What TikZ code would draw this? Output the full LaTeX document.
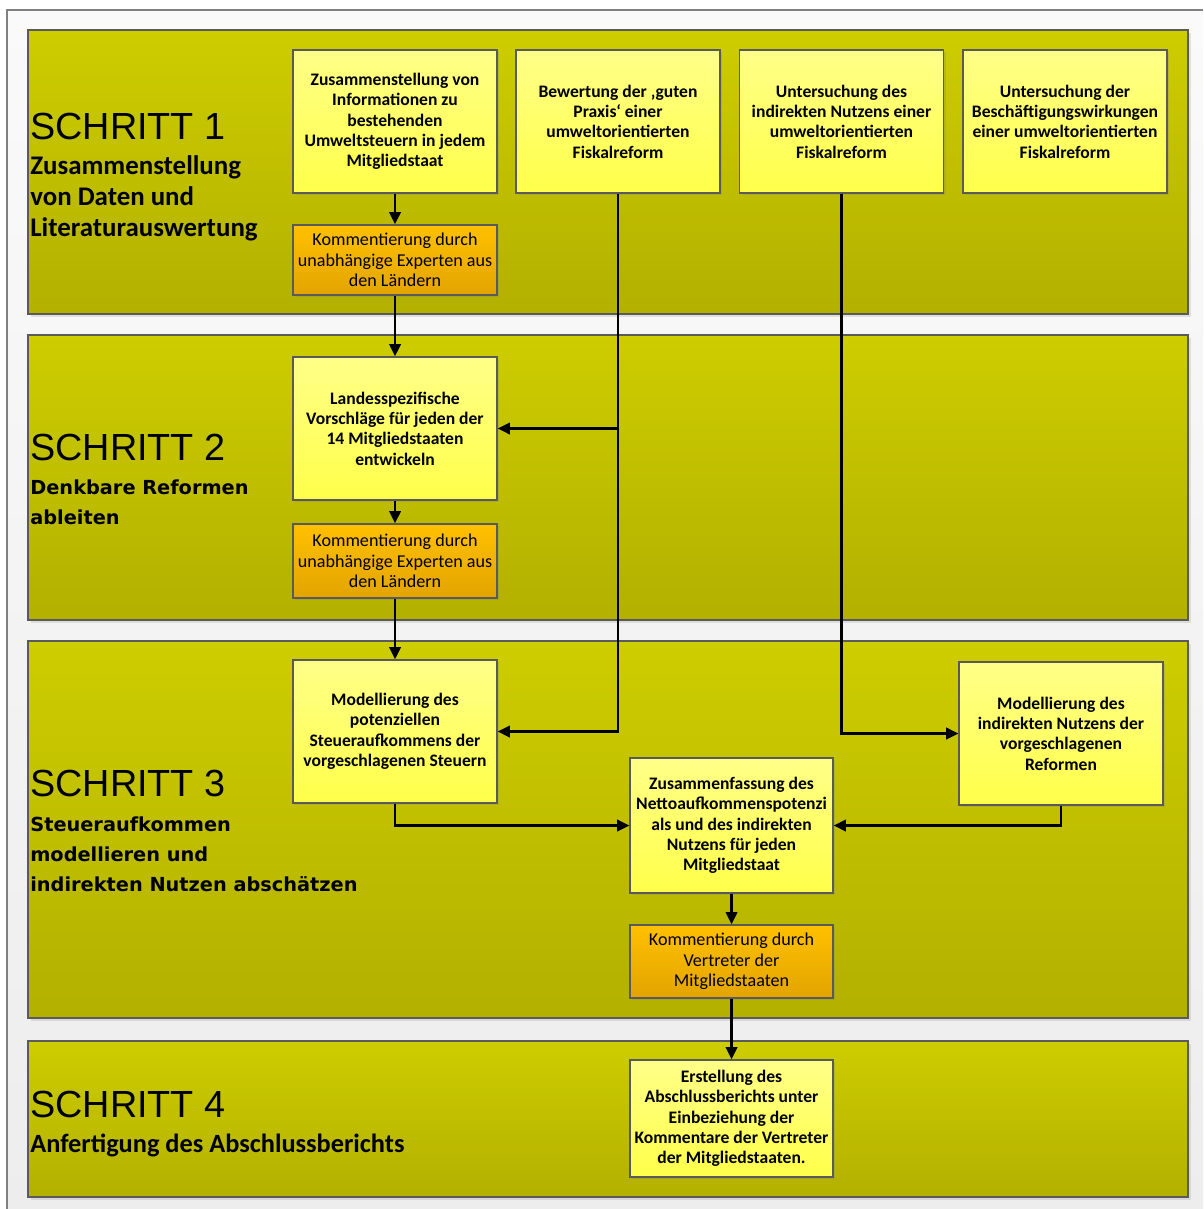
\documentclass[tikz,border=0pt]{standalone}
\usepackage{fontspec}
\setmainfont{Carlito}
\newfontfamily\headfont{Liberation Sans}
\newfontfamily\subfont{DejaVu Sans}
\usetikzlibrary{arrows.meta,shadows}
\definecolor{bandtop}{HTML}{CDCD00}
\definecolor{bandbot}{HTML}{B3B000}
\definecolor{boxtop}{HTML}{FFFF88}
\definecolor{boxbot}{HTML}{FFFF4A}
\definecolor{cmttop}{HTML}{FFC000}
\definecolor{cmtbot}{HTML}{E3A400}
\definecolor{edge}{HTML}{5A5A5A}
\tikzset{
  every picture/.style={line join=miter, >=Triangle},
  band/.style={top color=bandtop, bottom color=bandbot, draw=edge, line width=0.8pt,
    drop shadow={shadow xshift=1.5pt, shadow yshift=-1.5pt, opacity=0.2}},
  task/.style={draw=edge, line width=0.7pt, top color=boxtop, bottom color=boxbot,
    minimum width=4.08cm, minimum height=2.86cm, inner sep=1pt, align=center,
    font=\bfseries\fontsize{10}{11.6}\selectfont,
    drop shadow={shadow xshift=1.2pt, shadow yshift=-1.2pt, opacity=0.25}},
  comment/.style={task, top color=cmttop, bottom color=cmtbot, minimum height=1.45cm,
    font=\fontsize{10.3}{11.6}\selectfont},
  flow/.style={-{Triangle[length=7pt,width=6.5pt]}, line width=1.4pt},
  steptitle/.style={anchor=base west, inner sep=0pt, font=\headfont\fontsize{21.5}{24}\selectfont},
  stepsub/.style={anchor=north west, inner sep=0pt, align=left},
}

\begin{document}
\begin{tikzpicture}[x=0.02cm, y=-0.02cm]
\useasboundingbox (0,0) rectangle (1203,1209);
% page frame
\shade[top color=white!98!black, bottom color=white!93!black] (7,10) rectangle (1203,1209);
\draw[gray, line width=0.8pt] (7,1209) -- (7,10) -- (1203,10);
% step bands
\path[band] (28,30) rectangle (1188,314);
\path[band] (28,335) rectangle (1188,620);
\path[band] (28,641) rectangle (1188,1018);
\path[band] (28,1041) rectangle (1188,1197);

% step titles
\node[steptitle] (s1) at (30,140) {SCHRITT 1};
\node[stepsub, font=\bfseries\fontsize{15.3}{17.6}\selectfont] (s1sub) at (30,155)
  {Zusammenstellung\\von Daten und\\Literaturauswertung};
\node[steptitle] (s2) at (30,460) {SCHRITT 2};
\node[stepsub, font=\subfont\bfseries\fontsize{11}{17.6}\selectfont] (s2sub) at (30,479)
  {Denkbare Reformen\\ableiten};
\node[steptitle] (s3) at (30,796) {SCHRITT 3};
\node[stepsub, font=\subfont\bfseries\fontsize{11}{17.3}\selectfont] (s3sub) at (30,816)
  {Steueraufkommen\\modellieren und\\indirekten Nutzen abschätzen};
\node[steptitle] (s4) at (30,1117) {SCHRITT 4};
\node[steptitle, font=\bfseries\fontsize{15}{17.6}\selectfont] (s4sub) at (30,1152)
  {Anfertigung des Abschlussberichts};

% step 1
\node[task] (info) at (395,121.5) {Zusammenstellung von\\Informationen zu\\bestehenden\\Umweltsteuern in jedem\\Mitgliedstaat};
\node[task] (praxis) at (618,121.5) {Bewertung der ‚guten\\Praxis‘ einer\\umweltorientierten\\Fiskalreform};
\node[task] (nutzen) at (841.5,121.5) {Untersuchung des\\indirekten Nutzens einer\\umweltorientierten\\Fiskalreform};
\node[task] (besch) at (1065,121.5) {Untersuchung der\\Beschäftigungswirkungen\\einer umweltorientierten\\Fiskalreform};
\node[comment, minimum height=1.4cm] (kom1) at (395,260) {Kommentierung durch\\unabhängige Experten aus\\den Ländern};
% step 2
\node[task] (vorschlag) at (395,428.5) {Landesspezifische\\Vorschläge für jeden der\\14 Mitgliedstaaten\\entwickeln};
\node[comment, minimum height=1.48cm] (kom2) at (395,561) {Kommentierung durch\\unabhängige Experten aus\\den Ländern};
% step 3
\node[task] (steuer) at (395,731.5) {Modellierung des\\potenziellen\\Steueraufkommens der\\vorgeschlagenen Steuern};
\node[task] (indirekt) at (1061,733.5) {Modellierung des\\indirekten Nutzens der\\vorgeschlagenen\\Reformen};
\node[task, minimum width=4.06cm, minimum height=2.7cm] (summe) at (731.5,825.5) {Zusammenfassung des\\Nettoaufkommenspotenzi\\als und des indirekten\\Nutzens für jeden\\Mitgliedstaat};
\node[comment, minimum width=4.06cm, minimum height=1.46cm] (kom3) at (731.5,961.5) {Kommentierung durch\\Vertreter der\\Mitgliedstaaten};
% step 4
\node[task, minimum width=4.06cm, minimum height=2.34cm] (bericht) at (731.5,1118.5) {Erstellung des\\Abschlussberichts unter\\Einbeziehung der\\Kommentare der Vertreter\\der Mitgliedstaaten.};

% connectors
\draw[flow] (info) -- (kom1);
\draw[flow] (kom1) -- (vorschlag);
\draw[flow] (vorschlag) -- (kom2);
\draw[flow] (kom2) -- (steuer);
\draw[flow] (praxis.south) |- (steuer.east);
\draw[flow] (praxis.south |- vorschlag.east) -- (vorschlag.east);
\draw[flow] (nutzen.south) |- (indirekt.west);
\draw[flow] (steuer.south) |- (summe.west);
\draw[flow] (indirekt.south) |- (summe.east);
\draw[flow] (summe) -- (kom3);
\draw[flow] (kom3) -- (bericht);
\end{tikzpicture}
\end{document}
